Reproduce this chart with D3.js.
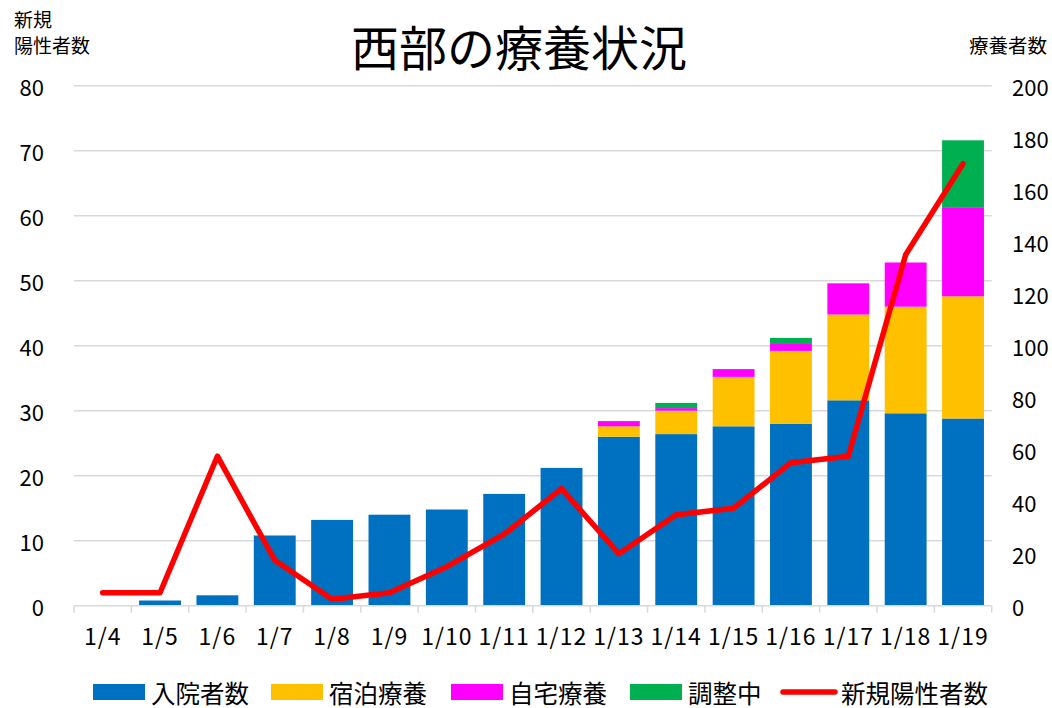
<!DOCTYPE html>
<html>
<head>
<meta charset="utf-8">
<script src="https://cdn.jsdelivr.net/npm/d3@7"></script>
<style>
  body { margin: 0; background: #fff; }
  svg text { font-family: "Noto Sans CJK JP", "Noto Sans", sans-serif; fill: #000; }
</style>
</head>
<body>
<div id="chart"></div>
<script>
// data
var dates = ["1/4", "1/5", "1/6", "1/7", "1/8", "1/9", "1/10", "1/11", "1/12", "1/13", "1/14", "1/15", "1/16", "1/17", "1/18", "1/19"];
var hospital = [0, 2, 4, 27, 33, 35, 37, 43, 53, 65, 66, 69, 70, 79, 74, 72];
var hotel = [0, 0, 0, 0, 0, 0, 0, 0, 0, 4, 9, 19, 28, 33, 41, 47];
var home = [0, 0, 0, 0, 0, 0, 0, 0, 0, 2, 1, 3, 3, 12, 17, 34];
var adjusting = [0, 0, 0, 0, 0, 0, 0, 0, 0, 0, 2, 0, 2, 0, 0, 26];
var newPositive = [2, 2, 23, 7, 1, 2, 6, 11, 18, 8, 14, 15, 22, 23, 54, 68];
var leftTicks = [0, 10, 20, 30, 40, 50, 60, 70, 80];
var rightTicks = [0, 20, 40, 60, 80, 100, 120, 140, 160, 180, 200];

var seriesNames = ["入院者数", "宿泊療養", "自宅療養", "調整中"];
var seriesColors = ["#0070C0", "#FFC000", "#FF00FF", "#00B050"];
var lineName = "新規陽性者数";
var lineColor = "#FF0000";

var width = 1052, height = 708;
// note: "top" is reserved on window, so use plot* names
var plotLeft = 74, plotRight = 991.7, plotTop = 85.7, plotBottom = 605.7;

var svg = d3.select("#chart")
  .append("svg")
  .attr("width", width)
  .attr("height", height);

var x = d3.scaleBand()
  .domain(dates)
  .range([plotLeft, plotRight])
  .paddingInner(0.27)
  .paddingOuter(0.135);

var yL = d3.scaleLinear().domain([0, 80]).range([plotBottom, plotTop]);
var yR = d3.scaleLinear().domain([0, 200]).range([plotBottom, plotTop]);

// gridlines
svg.append("g")
  .selectAll("line")
  .data(leftTicks.slice(1))
  .enter()
  .append("line")
  .attr("x1", plotLeft)
  .attr("x2", plotRight)
  .attr("y1", d => yL(d))
  .attr("y2", d => yL(d))
  .attr("stroke", "#d9d9d9")
  .attr("stroke-width", 1.5);

// stacked bars
var rows = dates.map((d, i) => ({
  date: d,
  s0: hospital[i], s1: hotel[i], s2: home[i], s3: adjusting[i]
}));
var stack = d3.stack().keys(["s0", "s1", "s2", "s3"])(rows);

svg.append("g")
  .selectAll("g")
  .data(stack)
  .enter()
  .append("g")
  .attr("fill", (d, i) => seriesColors[i])
  .selectAll("rect")
  .data(d => d)
  .enter()
  .append("rect")
  .attr("x", d => x(d.data.date))
  .attr("width", x.bandwidth())
  .attr("y", d => yR(d[1]))
  .attr("height", d => yR(d[0]) - yR(d[1]));

// x axis line and category ticks
var step = x.step();
var boundaries = d3.range(dates.length + 1).map(i => plotLeft + i * step);
svg.append("line")
  .attr("x1", plotLeft)
  .attr("x2", plotRight)
  .attr("y1", plotBottom)
  .attr("y2", plotBottom)
  .attr("stroke", "#d9d9d9")
  .attr("stroke-width", 1.5);
svg.append("g")
  .selectAll("line")
  .data(boundaries)
  .enter()
  .append("line")
  .attr("x1", d => d)
  .attr("x2", d => d)
  .attr("y1", plotBottom)
  .attr("y2", plotBottom + 7)
  .attr("stroke", "#d9d9d9")
  .attr("stroke-width", 1.5);

svg.append("g")
  .selectAll("text")
  .data(dates)
  .enter()
  .append("text")
  .attr("x", d => x(d) + x.bandwidth() / 2)
  .attr("y", 635)
  .attr("text-anchor", "middle")
  .attr("dominant-baseline", "central")
  .attr("font-size", "23px")
  .attr("letter-spacing", "1px")
  .text(d => d);

// new positives line (left axis)
var line = d3.line()
  .x((d, i) => x(dates[i]) + x.bandwidth() / 2)
  .y(d => yL(d));

svg.append("path")
  .datum(newPositive)
  .attr("d", line)
  .attr("fill", "none")
  .attr("stroke", lineColor)
  .attr("stroke-width", 5.5)
  .attr("stroke-linejoin", "round")
  .attr("stroke-linecap", "round");

// y axis labels
svg.append("g")
  .selectAll("text")
  .data(leftTicks)
  .enter()
  .append("text")
  .attr("x", 44)
  .attr("y", d => yL(d))
  .attr("text-anchor", "end")
  .attr("dominant-baseline", "central")
  .attr("font-size", "22px")
  .text(d => d);

svg.append("g")
  .selectAll("text")
  .data(rightTicks)
  .enter()
  .append("text")
  .attr("x", 1012)
  .attr("y", d => yR(d))
  .attr("text-anchor", "start")
  .attr("dominant-baseline", "central")
  .attr("font-size", "22px")
  .text(d => d);

// titles
svg.append("text")
  .attr("x", 519)
  .attr("y", 45)
  .attr("text-anchor", "middle")
  .attr("dominant-baseline", "central")
  .attr("font-size", "48px")
  .text("西部の療養状況");

svg.append("text")
  .attr("x", 14)
  .attr("y", 18)
  .attr("dominant-baseline", "central")
  .attr("font-size", "19px")
  .text("新規");
svg.append("text")
  .attr("x", 14)
  .attr("y", 44)
  .attr("dominant-baseline", "central")
  .attr("font-size", "19px")
  .text("陽性者数");

svg.append("text")
  .attr("x", 1047)
  .attr("y", 44)
  .attr("text-anchor", "end")
  .attr("dominant-baseline", "central")
  .attr("font-size", "19.5px")
  .text("療養者数");

// legend
var legendY = 692;
var legendX = [93, 271, 451, 630];
var legend = svg.append("g");
seriesNames.forEach((name, i) => {
  legend.append("rect")
    .attr("x", legendX[i])
    .attr("y", legendY - 8)
    .attr("width", 52)
    .attr("height", 16)
    .attr("fill", seriesColors[i]);
  legend.append("text")
    .attr("x", legendX[i] + 58)
    .attr("y", legendY)
    .attr("dominant-baseline", "central")
    .attr("font-size", "24.5px")
    .text(name);
});
legend.append("line")
  .attr("x1", 783)
  .attr("x2", 835)
  .attr("y1", legendY)
  .attr("y2", legendY)
  .attr("stroke", lineColor)
  .attr("stroke-width", 5.5)
  .attr("stroke-linecap", "round");
legend.append("text")
  .attr("x", 841)
  .attr("y", legendY)
  .attr("dominant-baseline", "central")
  .attr("font-size", "24.5px")
  .text(lineName);
</script>
</body>
</html>
